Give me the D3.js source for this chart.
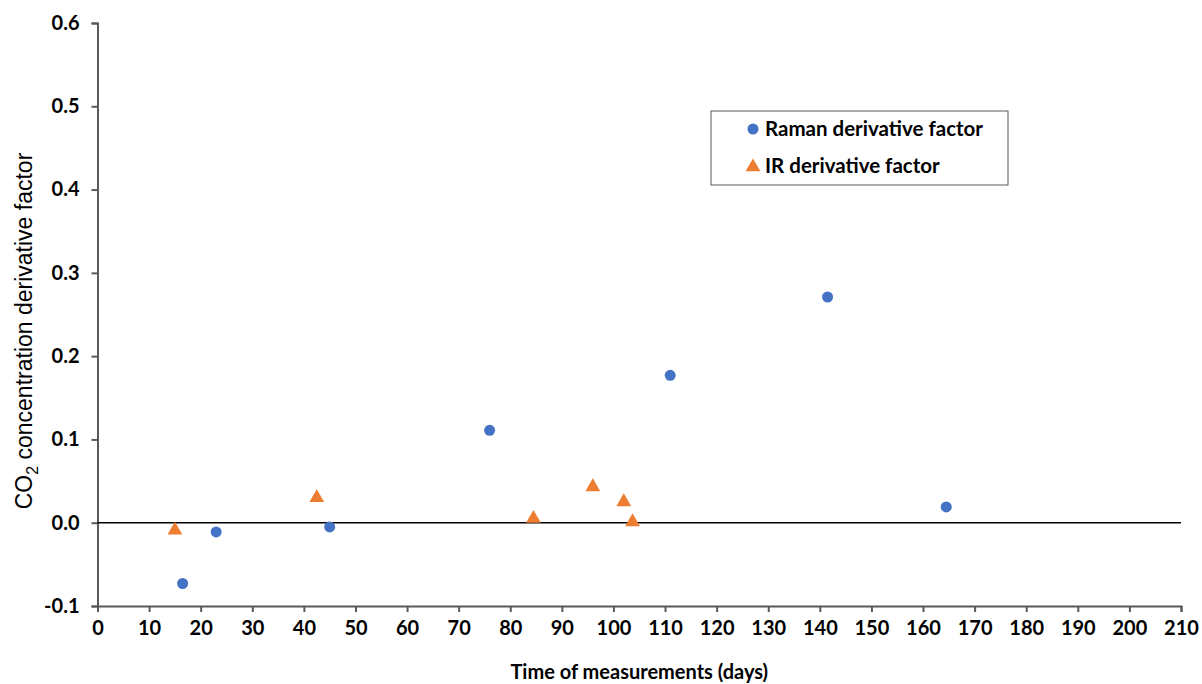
<!DOCTYPE html>
<html>
<head>
<meta charset="utf-8">
<script src="https://cdn.jsdelivr.net/npm/d3@7"></script>
<style>
  body { margin: 0; background: #fff; }
  svg text { font-family: Lato, "Open Sans", sans-serif; font-weight: bold; fill: #000; }
</style>
</head>
<body>
<div id="chart"></div>
<script>
// Donnees
const ramanDays = [16.5, 23, 45, 76, 111, 141.5, 164.5];
const ramanValues = [-0.073, -0.011, -0.005, 0.111, 0.177, 0.271, 0.019];
const irDays = [15, 42.5, 84.5, 96, 102, 103.7];
const irValues = [-0.009, 0.03, 0.005, 0.043, 0.025, 0.001];
const xTicks = d3.range(0, 211, 10);
const yTicks = [-0.1, 0, 0.1, 0.2, 0.3, 0.4, 0.5, 0.6];
const seriesNames = ["Raman derivative factor", "IR derivative factor"];

const width = 1202, height = 684;
const margin = {left: 97.5, right: 21, top: 23, bottom: 78};

const svg = d3.select("#chart").append("svg")
  .attr("width", width).attr("height", height);

const x = d3.scaleLinear().domain([0, 210]).range([margin.left, width - margin.right]);
const y = d3.scaleLinear().domain([-0.1, 0.6]).range([height - margin.bottom, margin.top]);

// Axe X
const xAxis = svg.append("g")
  .attr("transform", `translate(0,${y(-0.1)})`)
  .call(d3.axisBottom(x).tickValues(xTicks).tickSize(6).tickPadding(9).tickFormat(d3.format("d")));
// Axe Y (tiret simple pour le signe moins, comme dans l'original)
const yAxis = svg.append("g")
  .attr("transform", `translate(${x(0)},0)`)
  .call(d3.axisLeft(y).tickValues(yTicks).tickSize(6).tickPadding(12)
    .tickFormat(d => d.toFixed(1)));

[xAxis, yAxis].forEach(g => {
  g.select(".domain").attr("stroke", "#595959").attr("stroke-width", 2);
  g.selectAll(".tick line").attr("stroke", "#595959").attr("stroke-width", 2);
  g.selectAll(".tick text").style("font-size", "20px").attr("fill", "#000");
});

// Ligne du zero
svg.append("line")
  .attr("x1", x(0)).attr("x2", x(210))
  .attr("y1", y(0)).attr("y2", y(0))
  .attr("stroke", "#000").attr("stroke-width", 1.5);

const triangle = d3.symbol().type(d3.symbolTriangle).size(95);

// Points Raman
svg.selectAll(".raman")
  .data(ramanDays.map((d, i) => ({x: d, y: ramanValues[i]})))
  .enter().append("circle")
  .attr("cx", d => x(d.x)).attr("cy", d => y(d.y))
  .attr("r", 5.5).attr("fill", "#4472C4");

// Points IR
svg.selectAll(".ir")
  .data(irDays.map((d, i) => ({x: d, y: irValues[i]})))
  .enter().append("path")
  .attr("d", triangle)
  .attr("transform", d => `translate(${x(d.x)},${y(d.y)})`)
  .attr("fill", "#ED7D31");

// Titres des axes
svg.append("text")
  .attr("x", (x(0) + x(210)) / 2).attr("y", 679)
  .attr("text-anchor", "middle").style("font-size", "20px")
  .text("Time of measurements (days)");

const yTitle = svg.append("text")
  .attr("transform", "translate(32,331) rotate(-90)")
  .attr("text-anchor", "middle")
  .style("font-family", "'Liberation Sans', Arial, sans-serif")
  .style("font-weight", "normal").style("font-size", "23px");
yTitle.append("tspan").text("CO");
yTitle.append("tspan").attr("dy", 6).style("font-size", "16px").text("2");
yTitle.append("tspan").attr("dy", -6).text(" concentration derivative factor");

// Legende
const legend = svg.append("g").attr("transform", "translate(711,111)");
legend.append("rect")
  .attr("width", 297).attr("height", 74)
  .attr("fill", "#fff").attr("stroke", "#595959").attr("stroke-width", 1);
legend.append("circle").attr("cx", 42).attr("cy", 18).attr("r", 5.5).attr("fill", "#4472C4");
legend.append("path").attr("d", triangle).attr("transform", "translate(42,56)").attr("fill", "#ED7D31");
legend.selectAll(".lt").data(seriesNames).enter().append("text")
  .attr("x", 54).attr("y", (d, i) => 25 + i * 37)
  .style("font-size", "20.5px").text(d => d);
</script>
</body>
</html>
